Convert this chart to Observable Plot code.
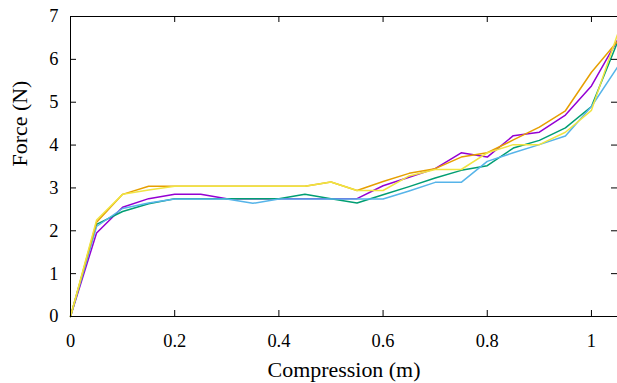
<!DOCTYPE html>
<html>
<head>
<meta charset="utf-8">
<script src="https://cdn.jsdelivr.net/npm/d3@7"></script>
<script src="https://cdn.jsdelivr.net/npm/@observablehq/plot@0.6"></script>
<style>
  html, body { margin: 0; padding: 0; background: #fff; }
</style>
</head>
<body>
<div id="chart"></div>
<script>
const compression = [0, 0.05, 0.1, 0.15, 0.2, 0.25, 0.3, 0.35, 0.4, 0.45, 0.5, 0.55, 0.6, 0.65, 0.7, 0.75, 0.8, 0.85, 0.9, 0.95, 1.0, 1.05];
const purpleForce = [0, 1.95, 2.55, 2.75, 2.85, 2.85, 2.75, 2.75, 2.75, 2.75, 2.75, 2.75, 3.05, 3.25, 3.45, 3.82, 3.72, 4.22, 4.3, 4.7, 5.38, 6.45];
const greenForce  = [0, 2.15, 2.45, 2.63, 2.75, 2.75, 2.75, 2.75, 2.75, 2.85, 2.75, 2.65, 2.84, 3.03, 3.23, 3.41, 3.52, 3.93, 4.11, 4.4, 4.9, 6.4];
const blueForce   = [0, 2.1, 2.52, 2.65, 2.74, 2.74, 2.74, 2.64, 2.74, 2.74, 2.74, 2.74, 2.74, 2.93, 3.13, 3.13, 3.62, 3.82, 4.01, 4.21, 4.9, 5.82];
const orangeForce = [0, 2.2, 2.85, 3.04, 3.04, 3.04, 3.04, 3.04, 3.04, 3.04, 3.14, 2.94, 3.15, 3.34, 3.45, 3.72, 3.82, 4.12, 4.42, 4.8, 5.7, 6.42];
const yellowForce = [0, 2.25, 2.85, 2.95, 3.04, 3.04, 3.04, 3.04, 3.04, 3.04, 3.14, 2.94, 2.94, 3.28, 3.43, 3.43, 3.82, 4.01, 4.01, 4.3, 4.81, 6.58];
const seriesNames = ["s1", "s2", "s3", "s4", "s5"];
const seriesColors = ["#9400d3", "#009e73", "#56b4e9", "#e69f00", "#f0e442"];
const xTicks = [0, 0.2, 0.4, 0.6, 0.8, 1];
const yTicks = [0, 1, 2, 3, 4, 5, 6, 7];
const xTitle = "Compression (m)";
const yTitle = "Force (N)";

const allSeries = [purpleForce, greenForce, blueForce, orangeForce, yellowForce];
const rows = [];
allSeries.forEach((vals, k) => {
  compression.forEach((x, i) => rows.push({x, y: vals[i], s: seriesNames[k]}));
});

// pick an installed Times-like serif font, falling back to DejaVu Serif
const ctx = document.createElement("canvas").getContext("2d");
function widthIn(font, s) { ctx.font = "100px " + font; return ctx.measureText(s).width; }
const probe = "Compression (m) 0.4";
const candidates = ["Liberation Serif", "Times New Roman", "Tinos", "Nimbus Roman", "Noto Serif", "DejaVu Serif"];
let FONT = "serif";
for (const c of candidates) {
  const q = "'" + c + "'";
  if (widthIn(q + ", monospace", probe) !== widthIn("monospace", probe)) { FONT = q; break; }
}
const titleSize = Math.min(22, 153 * 100 / widthIn(FONT, xTitle));
const tickFont = Math.min(19, 23 * 100 / widthIn(FONT, "0.4"));

const W = 617, H = 383, mL = 70, mR = 0, mT = 16, mB = 67;
const innerW = W - mL - mR, innerH = H - mT - mB;
const tickLen = 6;

const chart = Plot.plot({
  width: W,
  height: H,
  marginLeft: mL,
  marginRight: mR,
  marginTop: mT,
  marginBottom: mB,
  style: {fontFamily: FONT, fontSize: tickFont + "px", color: "#000", background: "#fff"},
  x: {domain: [0, 1.05]},
  y: {domain: [0, 7]},
  color: {domain: seriesNames, range: seriesColors},
  marks: [
    Plot.line(rows, {x: "x", y: "y", stroke: "s", z: "s", strokeWidth: 1.5}),
    Plot.frame({stroke: "#000", strokeWidth: 1}),
    Plot.tickX(xTicks, {x: d => d, insetTop: innerH - tickLen, stroke: "#000"}),
    Plot.tickX(xTicks, {x: d => d, insetBottom: innerH - tickLen, stroke: "#000"}),
    Plot.tickY(yTicks, {y: d => d, insetRight: innerW - tickLen, stroke: "#000"}),
    Plot.tickY(yTicks, {y: d => d, insetLeft: innerW - tickLen, stroke: "#000"}),
    Plot.axisX(xTicks, {tickSize: 0, tickPadding: 18 - 0.71 * tickFont + 12.5, label: null, fontSize: tickFont, tickFormat: d => String(d)}),
    Plot.axisY(yTicks, {tickSize: 0, tickPadding: 12, label: null, fontSize: tickFont, tickFormat: d => String(d)}),
    Plot.text([xTitle], {frameAnchor: "bottom", dy: 384 - 316 - 0.32 * titleSize, fill: "#000", fontSize: titleSize}),
    Plot.text([yTitle], {frameAnchor: "left", dx: 26.5 - 0.32 * titleSize - 70, rotate: -90, fill: "#000", fontSize: titleSize})
  ]
});
d3.select(chart).selectAll("g, text").attr("font-family", FONT);
document.getElementById("chart").appendChild(chart);
</script>
</body>
</html>
